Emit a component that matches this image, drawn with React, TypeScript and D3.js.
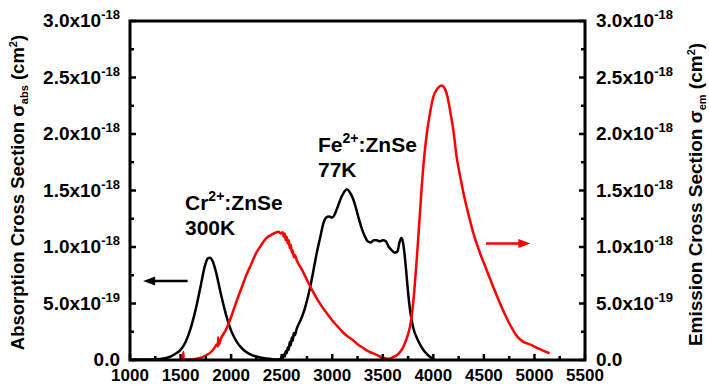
import React from "react";
import * as d3 from "d3";

// Absorption (black), units of 1e-18 cm^2
const absWavelength = [1000, 1100, 1200, 1300, 1400, 1450, 1500, 1550, 1600, 1650, 1700, 1740, 1770, 1790, 1820, 1850, 1900, 1950, 2000, 2050, 2100, 2150, 2200, 2300, 2400, 2470, 2490, 2500, 2510, 2520, 2530, 2540, 2550, 2560, 2570, 2580, 2590, 2600, 2610, 2620, 2630, 2650, 2670, 2700, 2730, 2760, 2790, 2820, 2850, 2880, 2910, 2940, 2970, 3000, 3030, 3060, 3090, 3120, 3145, 3170, 3200, 3230, 3260, 3290, 3320, 3350, 3380, 3410, 3440, 3470, 3500, 3530, 3560, 3590, 3620, 3645, 3665, 3685, 3700, 3715, 3730, 3750, 3770, 3800, 3850, 3900, 3950, 4000];
const absValue = [0.004, 0.004, 0.005, 0.01, 0.03, 0.055, 0.09, 0.16, 0.28, 0.45, 0.66, 0.83, 0.9, 0.905, 0.87, 0.78, 0.58, 0.4, 0.26, 0.17, 0.11, 0.07, 0.045, 0.02, 0.008, 0.004, 0.01, 0.03, 0.015, 0.05, 0.03, 0.08, 0.06, 0.11, 0.09, 0.16, 0.13, 0.2, 0.17, 0.24, 0.22, 0.28, 0.32, 0.38, 0.46, 0.56, 0.68, 0.82, 0.96, 1.08, 1.2, 1.26, 1.27, 1.26, 1.3, 1.37, 1.44, 1.49, 1.51, 1.49, 1.44, 1.36, 1.26, 1.17, 1.1, 1.05, 1.04, 1.06, 1.06, 1.05, 1.06, 1.05, 1.0, 0.97, 0.95, 0.96, 1.04, 1.08, 1.04, 0.94, 0.8, 0.6, 0.44, 0.29, 0.17, 0.09, 0.04, 0.01];

// Emission (red), units of 1e-18 cm^2
const emWavelength = [1525, 1527, 1530, 1600, 1650, 1700, 1750, 1800, 1830, 1860, 1870, 1872, 1875, 1900, 1950, 2000, 2050, 2100, 2150, 2200, 2250, 2300, 2350, 2400, 2450, 2470, 2490, 2510, 2520, 2530, 2540, 2550, 2560, 2570, 2580, 2590, 2600, 2610, 2620, 2630, 2650, 2700, 2750, 2800, 2850, 2900, 2950, 3000, 3050, 3100, 3150, 3200, 3250, 3300, 3350, 3400, 3450, 3490, 3500, 3510, 3550, 3600, 3650, 3700, 3740, 3770, 3800, 3835, 3860, 3885, 3910, 3935, 3970, 4000, 4040, 4080, 4115, 4140, 4165, 4200, 4230, 4260, 4300, 4350, 4400, 4460, 4530, 4600, 4660, 4710, 4760, 4820, 4890, 4950, 5020, 5090, 5150];
const emValue = [0.0, 0.07, 0.005, 0.005, 0.01, 0.02, 0.04, 0.07, 0.1, 0.14, 0.12, 0.2, 0.13, 0.19, 0.27, 0.38, 0.51, 0.63, 0.75, 0.85, 0.95, 1.02, 1.08, 1.11, 1.13, 1.135, 1.12, 1.13, 1.09, 1.12, 1.06, 1.09, 1.03, 1.06, 0.99, 1.02, 0.95, 0.97, 0.91, 0.93, 0.88, 0.8, 0.71, 0.62, 0.54, 0.47, 0.41, 0.35, 0.3, 0.25, 0.21, 0.18, 0.14, 0.11, 0.08, 0.06, 0.04, 0.02, 0.003, 0.02, 0.01, 0.025, 0.05, 0.11, 0.2, 0.3, 0.5, 0.88, 1.2, 1.53, 1.8, 2.0, 2.2, 2.33, 2.4, 2.43, 2.4, 2.33, 2.21, 2.02, 1.8, 1.65, 1.47, 1.28, 1.11, 0.95, 0.79, 0.63, 0.5, 0.4, 0.31, 0.22, 0.16, 0.14, 0.11, 0.08, 0.06];

const xTicks = [1000, 1500, 2000, 2500, 3000, 3500, 4000, 4500, 5000, 5500];
const xMinorTicks = [1250, 1750, 2250, 2750, 3250, 3750, 4250, 4750, 5250];
const yTicks = [0, 0.5, 1.0, 1.5, 2.0, 2.5, 3.0];
const yMinorTicks = [0.25, 0.75, 1.25, 1.75, 2.25, 2.75];
const yTickMain = ["0.0", "5.0x10", "1.0x10", "1.5x10", "2.0x10", "2.5x10", "3.0x10"];
const yTickExp = ["", "-19", "-18", "-18", "-18", "-18", "-18"];

// annotation arrows in data units
const absArrow = { from: 1570, to: 1130, value: 0.7 };
const emArrow = { from: 4520, to: 4960, value: 1.03 };

const FONT = "'Liberation Sans', Arial, sans-serif";

export default function App() {
  const W = 709;
  const H = 385;
  const x = d3.scaleLinear().domain([1000, 5500]).range([130, 585]);
  const y = d3.scaleLinear().domain([0, 3]).range([360, 21]);

  const line = d3
    .line<[number, number]>()
    .x((d) => x(d[0]))
    .y((d) => y(d[1]))
    .curve(d3.curveMonotoneX);

  const absPts = absWavelength.map((w, i) => [w, absValue[i]] as [number, number]);
  const emPts = emWavelength.map((w, i) => [w, emValue[i]] as [number, number]);

  const x0 = x.range()[0];
  const x1 = x.range()[1];
  const y0 = y.range()[0];
  const y1 = y.range()[1];

  const majorLen = 6;
  const minorLen = 4;

  const ax = { from: x(absArrow.from), to: x(absArrow.to), y: y(absArrow.value) };
  const ex = { from: x(emArrow.from), to: x(emArrow.to), y: y(emArrow.value) };

  return (
    <svg width={W} height={H} style={{ position: "absolute", left: 0, top: 0, background: "#fff" }} fontFamily={FONT} fontWeight="bold">
      <rect x={0} y={0} width={W} height={H} fill="#fff" />
      {/* curves */}
      <path d={line(absPts) || ""} fill="none" stroke="#000" strokeWidth={2.5} strokeLinejoin="round" />
      <path d={line(emPts) || ""} fill="none" stroke="#ff0000" strokeWidth={2.5} strokeLinejoin="round" />

      {/* frame */}
      <rect x={x0} y={y1} width={x1 - x0} height={y0 - y1} fill="none" stroke="#000" strokeWidth={3} />

      {/* bottom ticks */}
      {xTicks.map((t) => (
        <line key={"xt" + t} x1={x(t)} x2={x(t)} y1={y0} y2={y0 - majorLen} stroke="#000" strokeWidth={2.5} />
      ))}
      {xMinorTicks.map((t) => (
        <line key={"xm" + t} x1={x(t)} x2={x(t)} y1={y0} y2={y0 - minorLen} stroke="#000" strokeWidth={2.5} />
      ))}
      {xTicks.map((t) => (
        <text key={"xl" + t} x={x(t)} y={381} textAnchor="middle" fontSize={17} fill="#000">
          {t}
        </text>
      ))}

      {/* left & right ticks */}
      {yTicks.map((t) => (
        <g key={"yt" + t}>
          <line x1={x0} x2={x0 + majorLen} y1={y(t)} y2={y(t)} stroke="#000" strokeWidth={2.5} />
          <line x1={x1} x2={x1 - majorLen} y1={y(t)} y2={y(t)} stroke="#000" strokeWidth={2.5} />
        </g>
      ))}
      {yMinorTicks.map((t) => (
        <g key={"ym" + t}>
          <line x1={x0} x2={x0 + minorLen} y1={y(t)} y2={y(t)} stroke="#000" strokeWidth={2.5} />
          <line x1={x1} x2={x1 - minorLen} y1={y(t)} y2={y(t)} stroke="#000" strokeWidth={2.5} />
        </g>
      ))}
      {yTicks.map((t, i) => (
        <g key={"yl" + t}>
          <text x={120} y={y(t) + 6} textAnchor="end" fontSize={19} fill="#000">
            {yTickMain[i]}
            {yTickExp[i] && (
              <tspan fontSize={13} dy={-8}>
                {yTickExp[i]}
              </tspan>
            )}
          </text>
          <text x={596} y={y(t) + 6} textAnchor="start" fontSize={19} fill="#000">
            {yTickMain[i]}
            {yTickExp[i] && (
              <tspan fontSize={13} dy={-8}>
                {yTickExp[i]}
              </tspan>
            )}
          </text>
        </g>
      ))}

      {/* axis titles */}
      <text transform={`translate(24,${(y0 + y1) / 2 + 2}) rotate(-90)`} textAnchor="middle" fontSize={18.5} fill="#000">
        Absorption Cross Section σ
        <tspan fontSize={11} dy={4}>abs</tspan>
        <tspan dy={-4}> (cm</tspan>
        <tspan fontSize={11} dy={-7}>2</tspan>
        <tspan dy={7}>)</tspan>
      </text>
      <text transform={`translate(702,${(y0 + y1) / 2 + 4}) rotate(-90)`} textAnchor="middle" fontSize={19} fill="#000">
        Emission Cross Section σ
        <tspan fontSize={11} dy={4}>em</tspan>
        <tspan dy={-4}> (cm</tspan>
        <tspan fontSize={11} dy={-7}>2</tspan>
        <tspan dy={7}>)</tspan>
      </text>

      {/* annotations */}
      <text x={185} y={210} fontSize={21} fill="#000">
        Cr<tspan fontSize={14} dy={-9}>2+</tspan>
        <tspan dy={9}>:ZnSe</tspan>
      </text>
      <text x={185} y={235} fontSize={21} fill="#000">300K</text>
      <text x={318} y={152} fontSize={21} fill="#000">
        Fe<tspan fontSize={14} dy={-9}>2+</tspan>
        <tspan dy={9}>:ZnSe</tspan>
      </text>
      <text x={318} y={177} fontSize={21} fill="#000">77K</text>

      {/* arrows */}
      <line x1={ax.from} x2={ax.to + 10} y1={ax.y} y2={ax.y} stroke="#000" strokeWidth={2.5} />
      <path d={`M${ax.to},${ax.y} L${ax.to + 12},${ax.y - 4.5} L${ax.to + 12},${ax.y + 4.5} Z`} fill="#000" />
      <line x1={ex.from} x2={ex.to - 10} y1={ex.y} y2={ex.y} stroke="#ff0000" strokeWidth={2.5} />
      <path d={`M${ex.to},${ex.y} L${ex.to - 12},${ex.y - 4.5} L${ex.to - 12},${ex.y + 4.5} Z`} fill="#ff0000" />
    </svg>
  );
}
